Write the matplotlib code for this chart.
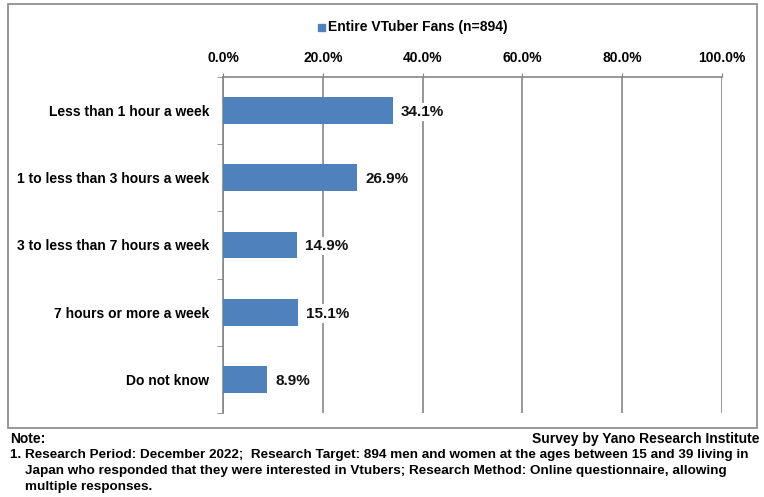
import numpy as np
import matplotlib.pyplot as plt
from matplotlib.patches import Rectangle
from matplotlib.ticker import FuncFormatter

# Data
categories = ["Less than 1 hour a week", "1 to less than 3 hours a week",
              "3 to less than 7 hours a week", "7 hours or more a week", "Do not know"]
values = [34.1, 26.9, 14.9, 15.1, 8.9]
series_name = "Entire VTuber Fans (n=894)"
xticks = [0, 20, 40, 60, 80, 100]

bar_color = "#4F81BD"
grid_color = "#868686"

W, H = 764, 497
plt.rcParams['font.family'] = ['Liberation Sans', 'DejaVu Sans']
fig = plt.figure(figsize=(W / 100, H / 100), dpi=100)

# axes placement in pixels
left, right, top, bottom = 223, 722, 77, 413
ax = fig.add_axes([left / W, 1 - bottom / H, (right - left) / W, (bottom - top) / H])

y = np.arange(len(categories))
ax.barh(y, values, height=0.4, color=bar_color, zorder=3)
ax.set_ylim(len(categories) - 0.5, -0.5)
ax.set_xlim(0, 100)

# value labels sit on a white box, hiding the gridline behind them
for yi, v in zip(y, values):
    ax.text(v + 1.6, yi + 0.02, f"{v:.1f}%", va="center", ha="left",
            fontsize=11, fontweight="bold", color="#111111", zorder=4,
            bbox=dict(facecolor="white", edgecolor="none", pad=1.5))

ax.xaxis.tick_top()
ax.set_xticks(xticks)
ax.xaxis.set_major_formatter(FuncFormatter(lambda v, p: f"{v:.1f}%"))
ax.tick_params(axis="x", length=3, color=grid_color, labelsize=10, pad=6)
for lbl in ax.get_xticklabels():
    lbl.set_fontweight("bold")
ax.grid(axis="x", color=grid_color, linewidth=1.2, zorder=0)

# category labels with boundary tick marks
ax.set_yticks(y)
ax.set_yticklabels(categories, fontsize=10, fontweight="bold")
ax.tick_params(axis="y", length=0, pad=10)
ax.set_yticks(np.arange(len(categories) + 1) - 0.5, minor=True)
ax.tick_params(axis="y", which="minor", length=4, color=grid_color)

for s in ["right", "bottom"]:
    ax.spines[s].set_visible(False)
for s in ["left", "top"]:
    ax.spines[s].set_color(grid_color)
    ax.spines[s].set_linewidth(1.2)

# legend
leg_x, leg_y = 400, 27
fig.patches.append(Rectangle(((leg_x - 82) / W, 1 - (leg_y + 4) / H), 7 / W, 7 / H,
                             transform=fig.transFigure, color=bar_color))
fig.text((leg_x - 72) / W, 1 - leg_y / H, series_name, ha="left", va="center",
         fontsize=10, fontweight="bold")

# outer border
fig.patches.append(Rectangle((8 / W, 1 - 428 / H), (757 - 8) / W, (428 - 4) / H,
                             transform=fig.transFigure, fill=False,
                             edgecolor=grid_color, linewidth=1.2))

# notes
fig.text(10 / W, 1 - 439 / H, "Note:", ha="left", va="center", fontsize=10, fontweight="bold")
fig.text(760 / W, 1 - 439 / H, "Survey by Yano Research Institute", ha="right",
         va="center", fontsize=10, fontweight="bold")
note_lines = [
    "1. Research Period: December 2022;  Research Target: 894 men and women at the ages between 15 and 39 living in",
    "    Japan who responded that they were interested in Vtubers; Research Method: Online questionnaire, allowing",
    "    multiple responses.",
]
for i, line in enumerate(note_lines):
    fig.text(10 / W, 1 - (455 + 16 * i) / H, line, ha="left", va="center",
             fontsize=9.7, fontweight="bold")

fig.savefig("out.png", dpi=100)
